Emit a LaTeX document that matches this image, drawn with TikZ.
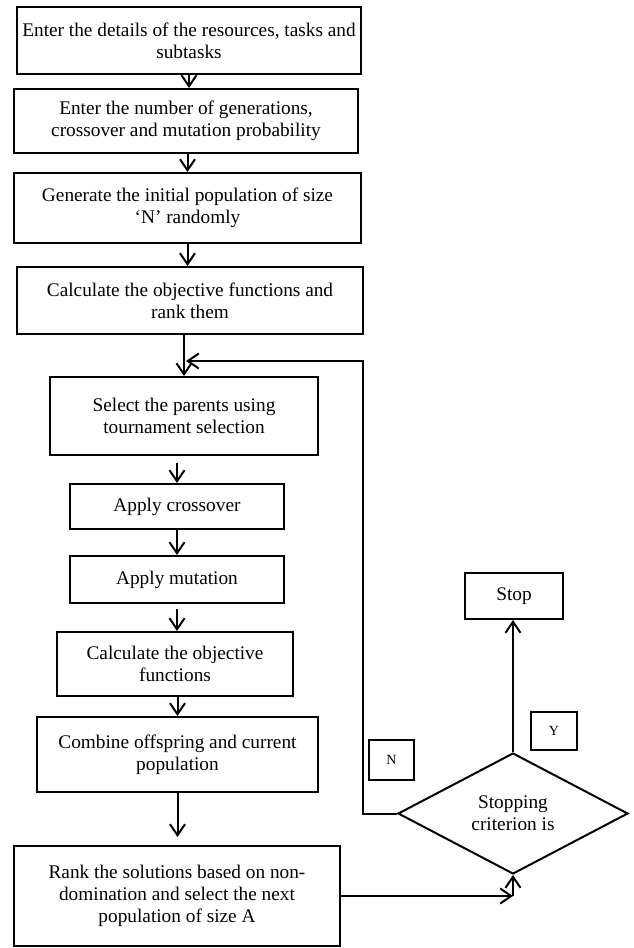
\documentclass[tikz,border=0pt]{standalone}
\usepackage{fontspec}
\setmainfont{Liberation Serif}
\usepackage{tikz}
\usetikzlibrary{shapes,shapes.geometric,arrows,arrows.meta,calc,positioning}

\begin{document}
\begin{tikzpicture}[x=1pt,y=-1pt,
	  every node/.style={align=center,font=\fontsize{19.3}{22}\selectfont},
	  process/.style={draw,line width=2pt,inner sep=2pt},
	  decision/.style={draw,line width=2pt,diamond,aspect=1.9,inner sep=1pt,minimum width=230pt,minimum height=121pt},
	  answer/.style={draw,line width=2pt,font=\fontsize{14}{16}\selectfont},
	  flow/.style={-{Straight Barb[length=11pt,width=15pt]},line width=2pt}]

	  \useasboundingbox (0,0) rectangle (633,948);

	  % Main column of steps
	  \node[process,minimum width=344pt,minimum height=67pt] (details) at (189,40.5) {Enter the details of the resources, tasks and\\subtasks};
	  \node[process,minimum width=344pt,minimum height=64pt] (settings) at (186,121) {Enter the number of generations,\\crossover and mutation probability};
	  \node[process,minimum width=347pt,minimum height=70pt] (initpop) at (187.5,208) {Generate the initial population of size\\‘N’ randomly};
	  \node[process,minimum width=346pt,minimum height=67pt] (evalrank) at (190,300.5) {Calculate the objective functions and\\rank them};
	  \node[process,minimum width=268pt,minimum height=78pt] (select) at (184,416) {Select the parents using\\tournament selection};
	  \node[process,minimum width=214pt,minimum height=45pt] (crossover) at (177,506.5) {Apply crossover};
	  \node[process,minimum width=214pt,minimum height=47pt] (mutation) at (177,579.5) {Apply mutation};
	  \node[process,minimum width=236pt,minimum height=64pt] (evaluate) at (175,664) {Calculate the objective\\functions};
	  \node[process,minimum width=281pt,minimum height=75pt] (combine) at (177.5,754.5) {Combine offspring and current\\population};
	  \node[process,minimum width=326pt,minimum height=100pt] (ranksel) at (177,896) {Rank the solutions based on non-\\domination and select the next\\population of size A};

	  % Stopping test
	  \node[decision] (stopping) at (513,813.5) {Stopping\\criterion is};
	  \node[process,minimum width=98pt,minimum height=46pt] (stop) at (514,596) {Stop};
	  \node[answer,minimum width=45pt,minimum height=40pt] (no) at (391.5,760) {N};
	  \node[answer,minimum width=46pt,minimum height=38pt] (yes) at (554,731) {Y};

	  \draw[flow] (details.south) -- (details.south |- settings.north);
	  \draw[flow] (initpop.north |- settings.south) -- (initpop.north);
	  \draw[flow] (initpop.south) -- (initpop.south |- evalrank.north);
	  \draw[flow] (select.north |- evalrank.south) -- (select.north);
	  \draw[flow,shorten <=7pt] (crossover.north |- select.south) -- (crossover.north);
	  \draw[flow] (crossover.south) -- (mutation.north);
	  \draw[flow,shorten <=5pt] (mutation.south) -- (mutation.south |- evaluate.north);
	  \draw[flow] (combine.north |- evaluate.south) -- (combine.north);
	  \draw[flow,shorten >=8pt] (combine.south) -- (combine.south |- ranksel.north);

	  \coordinate (merge) at (186,361);
	  \draw[flow] (stopping.west) -| (363,361) -- (merge);
	  \draw[flow] (stopping.north) -- (stopping.north |- stop.south);

	  \coordinate (join) at (stopping.south |- ranksel.east);
	  \draw[flow] (ranksel.east) -- (join);
	  \draw[flow] (join) -- (stopping.south);

\end{tikzpicture}
\end{document}
